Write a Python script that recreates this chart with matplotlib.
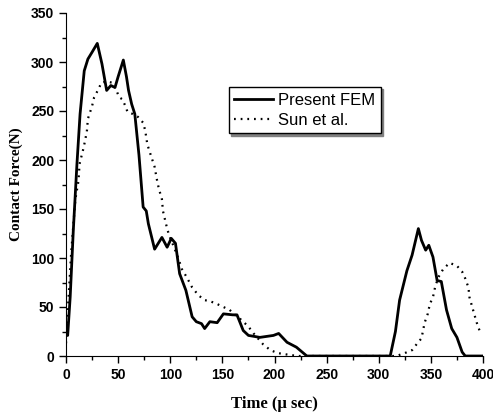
import numpy as np
import matplotlib
matplotlib.use("Agg")
import matplotlib.pyplot as plt
from matplotlib.ticker import MultipleLocator

# Present FEM (solid)
fem_t = [0, 1.6, 4, 7, 10.5, 13.5, 17.5, 21, 25, 30, 34.5, 39, 43, 47, 50, 55, 58, 60, 63, 66,
         70, 74, 77, 79, 85, 92, 97, 101, 105, 109, 115, 121, 125, 130, 133, 138, 145, 151,
         160, 164, 170, 175, 186, 199, 204, 212, 221, 231, 240, 311, 316, 320, 327, 332, 338,
         341, 345, 348, 352, 356, 360, 365, 370, 375, 380, 383, 400]
fem_f = [30, 21, 60, 128, 196, 247, 291, 303, 310, 319, 298, 271, 276, 274, 285, 302,
         285, 271, 257, 247, 205, 152, 148, 135, 109, 121, 111, 120, 115, 84, 67, 40, 35, 33,
         28, 35, 34, 43, 42, 42, 26, 21, 19, 21, 23, 14, 9, 0, 0, 0, 25, 57, 87, 103, 130,
         118, 108, 113, 101, 77, 76, 47, 28, 19, 4, 0, 0]

# Sun et al. (dotted)
sun_t = [0, 1, 5, 9, 12, 13, 17, 20, 21, 25, 27, 31, 34, 39, 44, 48, 51, 54, 57, 59, 64, 69, 74,
         76, 78, 81, 85, 87, 89, 92, 93, 97, 99, 104, 108, 111, 116, 121, 127, 133, 138, 145,
         151, 157, 162, 168, 175, 180, 189, 196, 203, 215, 223, 317, 325, 332, 337, 341, 344,
         347, 349, 352, 354, 357, 362, 368, 375, 380, 383, 386, 387, 391, 394, 398]
sun_f = [13, 33, 106, 160, 179, 196, 213, 229, 242, 255, 264, 272, 279, 280, 279, 272, 264, 262,
         255, 249, 247, 244, 238, 230, 216, 206, 193, 181, 171, 160, 148, 130, 123, 110, 99, 89,
         80, 70, 62, 57, 56, 53, 50, 47, 42, 37, 30, 23, 12, 6, 3, 1, 0, 0, 3, 6, 13, 18, 34,
         43, 53, 60, 70, 80, 89, 95, 92, 86, 79, 70, 60, 45, 34, 22]

fig = plt.figure(figsize=(4.93, 4.18), dpi=100)
ax = fig.add_axes([66 / 493, 62 / 418, 417 / 493, 343 / 418])

ax.plot(fem_t, fem_f, color="black", lw=2.0, label="Present FEM")
ax.plot(sun_t, sun_f, color="black", lw=1.6, linestyle=(0, (0.8, 2.2)), label="Sun et al.")

ax.set_xlim(0, 400)
ax.set_ylim(0, 350)
ax.xaxis.set_major_locator(MultipleLocator(50))
ax.xaxis.set_minor_locator(MultipleLocator(25))
ax.yaxis.set_major_locator(MultipleLocator(50))
ax.yaxis.set_minor_locator(MultipleLocator(25))
ax.spines["top"].set_visible(False)
ax.spines["right"].set_visible(False)
ax.tick_params(which="major", direction="out", length=5, width=1, top=False, right=False)
ax.tick_params(which="minor", direction="out", length=3, width=1, top=False, right=False)
for lab in ax.get_xticklabels() + ax.get_yticklabels():
    lab.set_fontfamily("Liberation Sans")
    lab.set_fontweight("bold")
    lab.set_fontsize(10)

ax.set_xlabel("Time (\u03bc sec)", fontfamily="Liberation Serif", fontweight="bold",
              fontsize=12, labelpad=10)
ax.set_ylabel("Contact Force(N)", fontfamily="Liberation Serif", fontweight="bold",
              fontsize=11, labelpad=6)

leg = ax.legend(loc="upper left", bbox_to_anchor=(0.39, 0.784), frameon=True, fancybox=False,
                shadow={"ox": 1.5, "oy": -1.5, "color": "0.5", "alpha": 1},
                edgecolor="black", handlelength=2.3, handletextpad=0.3,
                borderpad=0.35, labelspacing=0.28, borderaxespad=0,
                prop={"family": "Liberation Sans", "size": 12})
leg.get_frame().set_linewidth(1.0)

fig.savefig("out.png", dpi=100)
